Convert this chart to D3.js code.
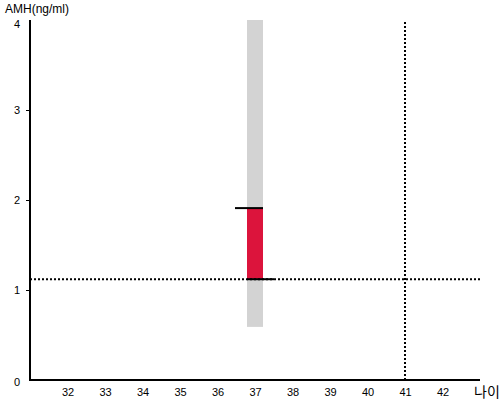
<!DOCTYPE html>
<html><head><meta charset="utf-8">
<script src="https://cdn.jsdelivr.net/npm/d3@7"></script>
<style>body{margin:0;background:#fff}svg{display:block;font-family:"Liberation Sans",Arial,sans-serif}</style>
</head><body><svg id="c" width="500" height="400"></svg>
<script>
const xTicks = [32,33,34,35,36,37,38,39,40,41,42];
const yTicks = [0,1,2,3,4];
const category = [37];
const rangeLow = [0.59];
const rangeHigh = [4.0];
const valueLow = [1.12];
const valueHigh = [1.91];
const refY = 1.12;
const refX = 41;
const xTitle = "나이";
const yTitle = "AMH(ng/ml)";

const svg = d3.select("#c");
const x = d3.scaleLinear().domain([31,43]).range([30,480]);
const y = d3.scaleLinear().domain([0,4]).range([380,20]);
const bw = 16;

// gray range
svg.selectAll(".rng").data(category).enter().append("rect")
  .attr("x", (d)=>x(d)-8).attr("width", bw)
  .attr("y", (d,i)=>y(rangeHigh[i])).attr("height",(d,i)=>y(rangeLow[i])-y(rangeHigh[i]))
  .attr("fill","#d3d3d3");
// red bar
svg.selectAll(".val").data(category).enter().append("rect")
  .attr("x", (d)=>x(d)-8).attr("width", bw)
  .attr("y", (d,i)=>y(valueHigh[i])).attr("height",(d,i)=>y(valueLow[i])-y(valueHigh[i]))
  .attr("fill","#dc143c");

// reference dotted lines
svg.append("line").attr("x1",x(31)).attr("x2",x(43)).attr("y1",y(refY)).attr("y2",y(refY))
  .attr("stroke","#000").attr("stroke-width",2).attr("stroke-dasharray","2,2");
svg.append("line").attr("x1",x(refX)).attr("x2",x(refX)).attr("y1",y(4)+2).attr("y2",y(0))
  .attr("stroke","#000").attr("stroke-width",2).attr("stroke-dasharray","2,2");

// black caps
category.forEach((d,i)=>{
  svg.append("line").attr("x1",x(d)-20).attr("x2",x(d)+8).attr("y1",y(valueHigh[i])).attr("y2",y(valueHigh[i]))
    .attr("stroke","#000").attr("stroke-width",2);
  svg.append("line").attr("x1",x(d)-8).attr("x2",x(d)+19).attr("y1",y(valueLow[i])).attr("y2",y(valueLow[i]))
    .attr("stroke","#000").attr("stroke-width",2);
});

// axes
const gx = svg.append("g").attr("transform","translate(0,380)")
  .call(d3.axisBottom(x).tickValues(xTicks).tickSize(0).tickPadding(8).tickFormat(d3.format("d")));
gx.select(".domain").attr("stroke","#000").attr("stroke-width",2).attr("d","M30,0H480");
gx.selectAll("text").attr("font-size",11).attr("font-family","Liberation Sans, Arial, sans-serif").attr("fill","#000");

const gy = svg.append("g").attr("transform","translate(30,0)")
  .call(d3.axisLeft(y).tickValues(yTicks).tickSize(4).tickPadding(6).tickFormat(d3.format("d")));
gy.select(".domain").attr("stroke","#000").attr("stroke-width",2).attr("d","M0,20V381");
gy.selectAll(".tick line").attr("stroke","#000");
gy.selectAll(".tick").filter(d=>d===0||d===4).select("line").remove();
gy.selectAll("text").attr("font-size",11).attr("font-family","Liberation Sans, Arial, sans-serif").attr("fill","#000");
gy.selectAll(".tick").filter(d=>d===4).select("text").attr("dy","0.7em");
gy.selectAll(".tick").filter(d=>d===0).select("text").attr("dy","0.5em");

svg.append("text").attr("x",5).attr("y",13).attr("font-size",12).text(yTitle);
svg.append("text").attr("x",474).attr("y",397).attr("font-size",14)
  .attr("font-family","Noto Sans CJK KR, sans-serif").text(xTitle);
</script></body></html>
